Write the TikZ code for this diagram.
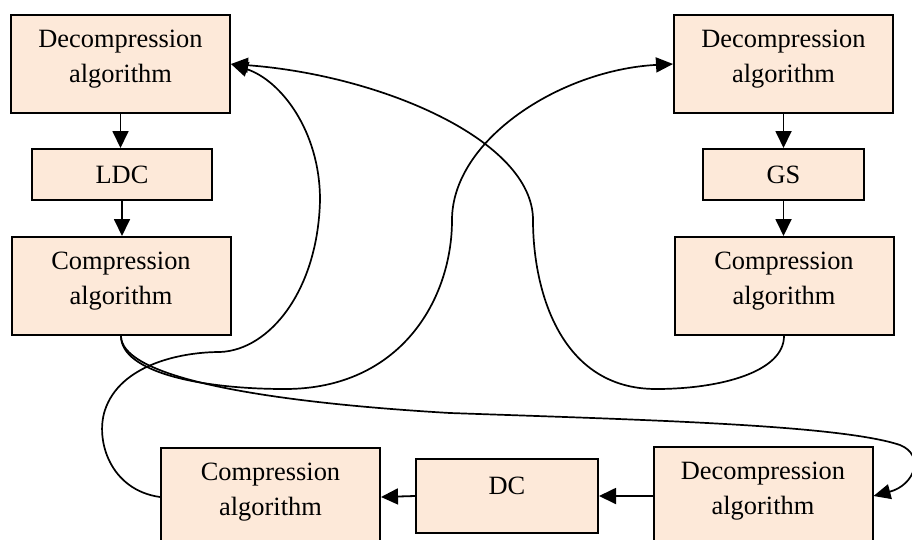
\documentclass[tikz,border=0pt]{standalone}
\usepackage{fontspec}
\setmainfont{Liberation Serif}
\usetikzlibrary{arrows.meta}
\definecolor{boxfill}{RGB}{253,233,217}
\begin{document}
\begin{tikzpicture}[x=1pt,y=-1pt,
  stage/.style={draw=black, line width=2pt, fill=boxfill, inner sep=0pt},
  bigbox/.style={stage, minimum width=219pt, minimum height=98pt},
  lbl/.style={inner sep=0pt, align=center, font=\fontsize{26.4}{35}\selectfont},
  flow/.style={line width=1.8pt, -{Triangle[length=17pt,width=16pt]}},
  link/.style={line width=1.7pt, -{Triangle[length=17pt,width=15pt]}}]
\useasboundingbox (0,0) rectangle (912,539);

% left column
\node[bigbox] (tld) at (120.5,64) {};
\node[lbl, yshift=4.5pt] (tldt) at (tld.center) {Decompression\\algorithm};
\node[stage, minimum width=180pt, minimum height=51pt] (ldc) at (122,174.5) {};
\node[lbl] (ldct) at (ldc.center) {LDC};
\node[bigbox] (tlc) at (121,286) {};
\node[lbl, yshift=4.5pt] (tlct) at (tlc.center) {Compression\\algorithm};

% right column
\node[bigbox] (trd) at (783.5,64) {};
\node[lbl, yshift=4.5pt] (trdt) at (trd.center) {Decompression\\algorithm};
\node[stage, minimum width=161pt, minimum height=51pt] (gs) at (783.5,174.5) {};
\node[lbl] (gst) at (gs.center) {GS};
\node[bigbox] (trc) at (784,286) {};
\node[lbl, yshift=4.5pt] (trct) at (trc.center) {Compression\\algorithm};

% bottom row
\node[bigbox] (bc) at (270.5,497) {};
\node[lbl, yshift=4.5pt] (bct) at (bc.center) {Compression\\algorithm};
\node[stage, minimum width=182pt, minimum height=74pt] (dc) at (507,496) {};
\node[lbl, yshift=10pt] (dct) at (dc.center) {DC};
\node[bigbox] (brd) at (763,496) {};
\node[lbl, yshift=4.5pt] (brdt) at (brd.center) {Decompression\\algorithm};

% straight steps
\draw[flow] (tld.south) -- (tld.south |- ldc.north);
\draw[flow] (ldc.south) -- (ldc.south |- tlc.north);
\draw[flow] (trd.south) -- (trd.south |- gs.north);
\draw[flow] (gs.south) -- (gs.south |- trc.north);
\draw[flow] (brd.west) -- (dc.east);
\draw[flow] (dc.west) -- (bc.east);

% long links between the stages
\draw[link] (tlc.south) .. controls (121,372) and (230,400) .. (450,413)
  .. controls (650,420) and (840,425) .. (900,445)
  .. controls (925,455) and (915,485) .. (brd.east);
\draw[link] (tlc.south) .. controls (121,372) and (200,389) .. (285,389)
  .. controls (400,389) and (452,300) .. (452,220)
  .. controls (452,140) and (560,70) .. (trd.west);
\draw[link] (trc.south) .. controls (784,372) and (720,389) .. (656,389)
  .. controls (560,389) and (533,290) .. (533,220)
  .. controls (533,140) and (380,75) .. (tld.east);
\draw[link] (bc.west) .. controls (110,490) and (95,440) .. (105,410)
  .. controls (120,365) and (180,352) .. (220,352)
  .. controls (270,350) and (318,290) .. (320,200)
  .. controls (320,130) and (280,80) .. (tld.east);
\end{tikzpicture}
\end{document}
